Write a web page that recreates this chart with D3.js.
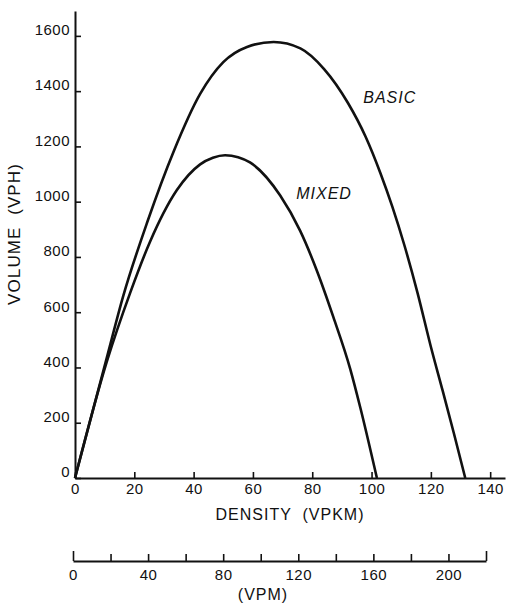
<!DOCTYPE html>
<html>
<head>
<meta charset="utf-8">
<script src="https://cdn.jsdelivr.net/npm/d3@7"></script>
<style>
  body { margin: 0; background: #fff; }
  svg { display: block; font-family: "Liberation Sans", Arial, sans-serif; }
</style>
</head>
<body>
<div id="chart"></div>
<script>
// values
const densityTicks = [0, 20, 40, 60, 80, 100, 120, 140];
const volumeTicks = [0, 200, 400, 600, 800, 1000, 1200, 1400, 1600];
const vpmTicks = [0, 20, 40, 60, 80, 100, 120, 140, 160, 180, 200, 220];
const vpmLabels = [0, 40, 80, 120, 160, 200];

const basicDensity = [0, 10.6, 16.3, 24.5, 33.2, 42.2, 50, 58, 67, 76, 84, 92, 98, 103, 107, 111, 115.5, 120, 124, 127.8, 131.6];
const basicVolume  = [0, 430, 660, 930, 1180, 1390, 1505, 1560, 1578, 1555, 1480, 1358, 1235, 1103, 982, 845, 670, 475, 315, 160, 0];

const mixedDensity = [0, 10.7, 18.6, 25.3, 34.3, 42.2, 46.5, 50.6, 55, 59, 69.2, 75.9, 81.5, 87.1, 92.8, 96.2, 101.8];
const mixedVolume  = [0, 420, 670, 855, 1041, 1135, 1159, 1168, 1161, 1142, 1022, 895, 752, 583, 395, 255, 0];

const curveNames = ["BASIC", "MIXED"];
const labelDensity = [97.2, 74.6];
const labelVolume = [1357, 1009];

const drawChart = () => {

  /*******************************/
  /*    Declare the constants    */
  /*******************************/
  const width = 512;
  const height = 604;
  const margin = { top: 11, left: 75 };
  const innerWidth = 430;
  const innerHeight = 467;
  const ink = "#111";

  const svg = d3.select("#chart")
    .append("svg")
    .attr("width", width)
    .attr("height", height)
    .attr("viewBox", `0 0 ${width} ${height}`);

  const innerChart = svg.append("g")
    .attr("transform", `translate(${margin.left}, ${margin.top})`);

  const xScale = d3.scaleLinear()
    .domain([0, 145])
    .range([0, innerWidth]);

  const yScale = d3.scaleLinear()
    .domain([0, 1690])
    .range([innerHeight, 0]);

  // VPM scale drawn below, a little off from the VPKM one as in the original
  const vpmScale = d3.scaleLinear()
    .domain([0, 220])
    .range([73, 486]);

  const styleAxis = (g, size) => {
    g.attr("font-size", size).attr("font-family", null);
    g.select(".domain").attr("stroke", ink).attr("stroke-width", 2);
    g.selectAll(".tick line").attr("stroke", ink).attr("stroke-width", 1.6);
    g.selectAll(".tick text").attr("fill", ink).attr("letter-spacing", 0.5);
  };

  /*******************************/
  /*            Axes             */
  /*******************************/
  const leftAxis = d3.axisLeft(yScale)
    .tickValues(volumeTicks)
    .tickFormat(d3.format("d"))
    .tickSize(-6)
    .tickSizeOuter(0)
    .tickPadding(5);
  innerChart.append("g")
    .call(leftAxis)
    .call(g => styleAxis(g, 15))
    .call(g => g.selectAll(".tick text").attr("dy", "-0.08em"));

  const bottomAxis = d3.axisBottom(xScale)
    .tickValues(densityTicks)
    .tickFormat(d3.format("d"))
    .tickSize(-6)
    .tickSizeOuter(0)
    .tickPadding(5);
  innerChart.append("g")
    .attr("transform", `translate(0, ${innerHeight})`)
    .call(bottomAxis)
    .call(g => styleAxis(g, 15));

  const vpmAxis = d3.axisBottom(vpmScale)
    .tickValues(vpmTicks)
    .tickSize(-7)
    .tickSizeOuter(0)
    .tickPadding(8)
    .tickFormat(d => vpmLabels.includes(d) ? d : "");
  svg.append("g")
    .attr("transform", "translate(0, 561)")
    .call(vpmAxis)
    .call(g => styleAxis(g, 15))
    .call(g => g.selectAll(".tick line")
      .filter(d => d === vpmTicks[0] || d === vpmTicks[vpmTicks.length - 1])
      .attr("y2", -10));

  /*******************************/
  /*           Titles            */
  /*******************************/
  svg.append("text")
    .text("DENSITY  (VPKM)")
    .attr("x", 290)
    .attr("y", 520)
    .attr("text-anchor", "middle")
    .attr("font-size", 16)
    .attr("letter-spacing", 1)
    .attr("fill", ink)
    .style("white-space", "pre");

  svg.append("text")
    .text("(VPM)")
    .attr("x", 263)
    .attr("y", 600)
    .attr("text-anchor", "middle")
    .attr("font-size", 16)
    .attr("letter-spacing", 1)
    .attr("fill", ink);

  svg.append("text")
    .text("VOLUME  (VPH)")
    .attr("transform", "translate(20, 234) rotate(-90)")
    .attr("text-anchor", "middle")
    .attr("font-size", 17)
    .attr("letter-spacing", 1.1)
    .attr("fill", ink)
    .style("white-space", "pre");

  /*******************************/
  /*           Curves            */
  /*******************************/
  const series = [
    { density: basicDensity, volume: basicVolume },
    { density: mixedDensity, volume: mixedVolume }
  ];

  const lineGenerator = d3.line()
    .x(d => xScale(d[0]))
    .y(d => yScale(d[1]))
    .curve(d3.curveMonotoneX);

  series.forEach(s => {
    const points = s.density.map((d, i) => [d, s.volume[i]]);
    innerChart.append("path")
      .attr("d", lineGenerator(points))
      .attr("fill", "none")
      .attr("stroke", ink)
      .attr("stroke-width", 2.6)
      .attr("stroke-linejoin", "round");
  });

  innerChart.selectAll(".curve-label")
    .data(curveNames)
    .join("text")
    .attr("class", "curve-label")
    .text(d => d)
    .attr("x", (d, i) => xScale(labelDensity[i]))
    .attr("y", (d, i) => yScale(labelVolume[i]))
    .attr("font-size", 16)
    .attr("font-style", "italic")
    .attr("letter-spacing", 1)
    .attr("fill", ink);
};

drawChart();
</script>
</body>
</html>
